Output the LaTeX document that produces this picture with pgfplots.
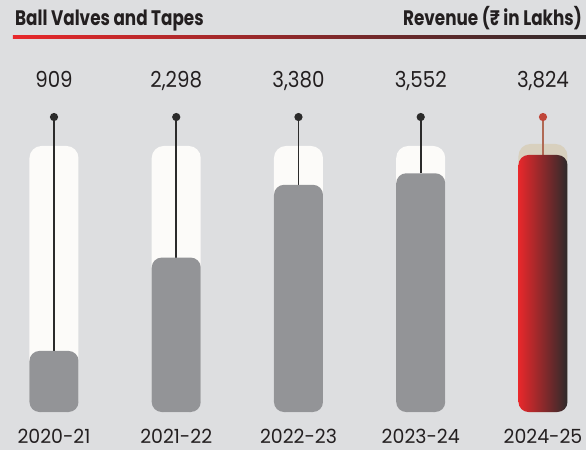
\documentclass[border=0pt]{standalone}
\usepackage{pgfplots}
\pgfplotsset{compat=1.18}
\usepackage{fontspec}
\setmainfont{Poppins}
\definecolor{bgc}{HTML}{DDDEE0}
\definecolor{tube}{HTML}{FCFBF9}
\definecolor{barg}{HTML}{939497}
\definecolor{stem}{HTML}{2B2B2B}
\definecolor{txt}{HTML}{231F20}
\definecolor{redc}{HTML}{E8282B}
\definecolor{darkc}{HTML}{2D2A2B}
\definecolor{beige}{HTML}{D8D0BE}
\definecolor{stemr}{HTML}{B06A55}
\definecolor{dotr}{HTML}{C0463A}
\tikzset{
  vlbl/.style={text=txt, inner sep=0pt, anchor=base, xscale=0.9, font=\fontsize{22}{24}\selectfont},
  ylbl/.style={text=txt, inner sep=0pt, anchor=base, xscale=0.97, font=\fontsize{19.5}{22}\selectfont},
  ttl/.style={text=txt, inner sep=0pt, xscale=0.8, font=\bfseries\fontsize{21}{24}\selectfont},
}

\begin{document}
\begin{tikzpicture}
\begin{axis}[
  scale only axis, width=586pt, height=450pt,
  xmin=-0.4417, xmax=4.352, ymin=-565.4, ymax=6130.3,
  axis lines=none, clip=false,
  axis background/.style={fill=bgc},
]
% tubes
\addplot[ybar, bar width=49pt, bar shift=0pt, fill=tube, draw=none, rounded corners=12pt]
  coordinates {(0,3958)(1,3958)(2,3958)(3,3958)};
\addplot[ybar, bar width=49pt, bar shift=0pt, fill=beige, draw=none, rounded corners=12pt]
  coordinates {(4,3988)};
% stems
\addplot[stem, line width=1.7pt, mark=*, mark size=3.2pt, mark indices={2}] coordinates {(0,909)(0,4389)};
\addplot[stem, line width=1.7pt, mark=*, mark size=3.2pt, mark indices={2}] coordinates {(1,2298)(1,4389)};
\addplot[stem, line width=1.7pt, mark=*, mark size=3.2pt, mark indices={2}] coordinates {(2,3380)(2,4389)};
\addplot[stem, line width=1.7pt, mark=*, mark size=3.2pt, mark indices={2}] coordinates {(3,3552)(3,4389)};
\addplot[stemr, line width=1.7pt, mark=*, mark size=3.2pt, mark indices={2}, mark options={fill=dotr, draw=dotr}] coordinates {(4,3824)(4,4389)};
% bars
\addplot[ybar, bar width=49pt, bar shift=0pt, fill=barg, draw=none, rounded corners=10pt]
  coordinates {(0,909)(1,2298)(2,3380)(3,3552)};
\addplot[ybar, bar width=49pt, bar shift=0pt, draw=none, rounded corners=10pt, left color=redc, right color=darkc]
  coordinates {(4,3824)};
% value labels
\node[vlbl] at (axis cs:0,4821) {909};
\node[vlbl] at (axis cs:1,4821) {2,298};
\node[vlbl] at (axis cs:2,4821) {3,380};
\node[vlbl] at (axis cs:3,4821) {3,552};
\node[vlbl] at (axis cs:4,4821) {3,824};
% years
\node[ylbl] at (axis cs:0,-462) {2020-21};
\node[ylbl] at (axis cs:1,-462) {2021-22};
\node[ylbl] at (axis cs:2,-462) {2022-23};
\node[ylbl] at (axis cs:3,-462) {2023-24};
\node[ylbl] at (axis cs:4,-462) {2024-25};
% title
\node[ttl, anchor=base west] at (axis cs:-0.319,5758) {Ball Valves and Tapes};
\node[ttl, anchor=base east] at (axis cs:4.319,5758) {Revenue (₹ in Lakhs)};
\shade[left color=redc, right color=darkc] (axis cs:-0.3356,5602) rectangle (axis cs:4.352,5557);
\end{axis}
\pgfresetboundingbox
\useasboundingbox (current axis.south west) rectangle (current axis.north east);
\end{tikzpicture}
\end{document}
